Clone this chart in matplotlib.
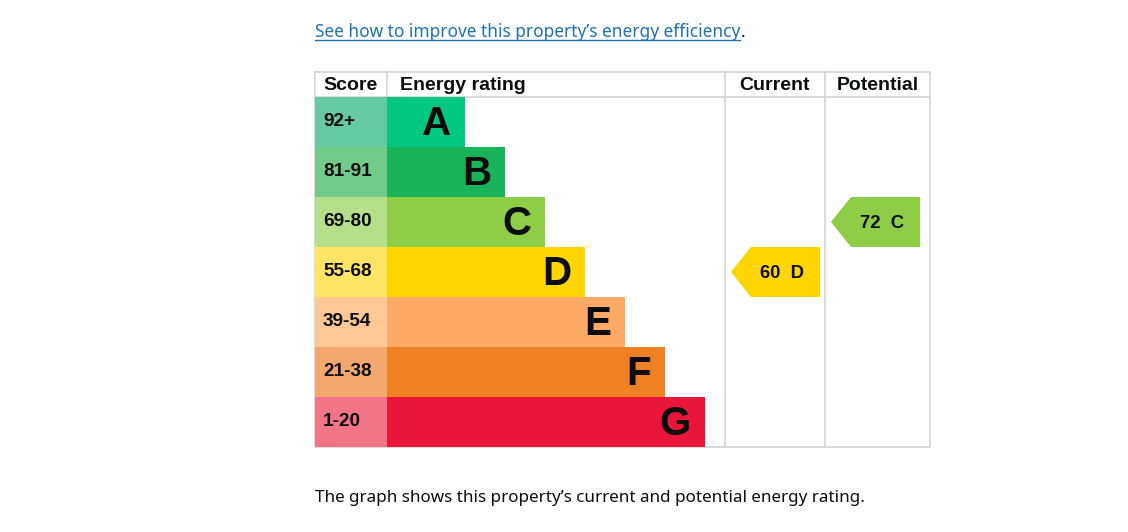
import matplotlib
matplotlib.use("Agg")
import matplotlib.pyplot as plt
from matplotlib.patches import Polygon, Rectangle

# ---- data ----
bands = ["A", "B", "C", "D", "E", "F", "G"]
score_ranges = ["92+", "81-91", "69-80", "55-68", "39-54", "21-38", "1-20"]
band_min = [92, 81, 69, 55, 39, 21, 1]
band_colors = ["#00c781", "#19b459", "#8dce46", "#ffd500", "#fcaa65", "#ef8023", "#e9153b"]
score_colors = ["#64c9a4", "#72cb8a", "#b6de8b", "#ffe466", "#fdc896", "#f2a86e", "#f27489"]
current_score = 60
potential_score = 72
headers = ["Score", "Energy rating", "Current", "Potential"]
link_text = "See how to improve this property\u2019s energy efficiency"
caption = "The graph shows this property\u2019s current and potential energy rating."

def band_of(score):
    for i, m in enumerate(band_min):
        if score >= m:
            return i
    return len(band_min) - 1

# ---- layout (pixels) ----
W, H = 1128, 532
fig = plt.figure(figsize=(W / 100, H / 100), dpi=100)
ax = fig.add_axes([0, 0, 1, 1])
ax.set_xlim(0, W)
ax.set_ylim(H, 0)
ax.axis("off")

x0, x_score, x_cur, x_pot, x1 = 315, 387, 725, 825, 930
y_top, y_head = 72, 97
row_h = 50
bar_base, bar_step = 78, 40
y_bot = y_head + row_h * len(bands)
grid = "#d2d3d4"
bold = dict(family="Liberation Sans", weight="bold", color="#0b0c0c")

# grid lines
lw = 1.2
ax.plot([x0, x1, x1, x0, x0], [y_top, y_top, y_bot, y_bot, y_top], color=grid, lw=lw, zorder=1)
ax.plot([x0, x1], [y_head, y_head], color=grid, lw=lw, zorder=1)
for xv in (x_score, x_cur, x_pot):
    ax.plot([xv, xv], [y_top, y_bot], color=grid, lw=lw, zorder=1)

# headers
hy = (y_top + y_head) / 2 + 1.5
ax.text(x0 + 8, hy, headers[0], ha="left", va="center", fontsize=14, **bold)
ax.text(x_score + 13, hy, headers[1], ha="left", va="center", fontsize=14, **bold)
ax.text((x_cur + x_pot) / 2, hy, headers[2], ha="center", va="center", fontsize=14, **bold)
ax.text((x_pot + x1) / 2, hy, headers[3], ha="center", va="center", fontsize=14, **bold)

# rows
for i, (b, sr) in enumerate(zip(bands, score_ranges)):
    top = y_head + i * row_h
    yc = top + row_h / 2
    ax.add_patch(Rectangle((x0, top), x_score - x0, row_h, color=score_colors[i], lw=0, zorder=2))
    width = bar_base + bar_step * i
    ax.barh(yc, width, height=row_h, left=x_score, color=band_colors[i], lw=0, zorder=2)
    ax.text(x0 + 8, yc, sr, ha="left", va="center", fontsize=13.7, zorder=3, **bold)
    ax.text(x_score + width - 14, yc + 2, b, ha="right", va="center", fontsize=29, zorder=3, **bold)

# arrows
def arrow(score, col_left):
    i = band_of(score)
    top = y_head + i * row_h
    bot = top + row_h
    yc = (top + bot) / 2
    tip, corner, right = col_left + 6, col_left + 26, col_left + 95
    ax.add_patch(Polygon([(tip, yc), (corner, top), (right, top), (right, bot), (corner, bot)],
                         closed=True, color=band_colors[i], lw=0, zorder=2))
    ax.text((corner + right) / 2 - 3, yc + 1, f"{score}  {bands[i]}", ha="center", va="center",
            fontsize=13.3, zorder=3, **bold)

arrow(current_score, x_cur)
arrow(potential_score, x_pot)

# link text with underline
fig.canvas.draw()
r = fig.canvas.get_renderer()
t = ax.text(x0, 37, link_text, ha="left", va="baseline", fontsize=14, family="Noto Sans", color="#1d70b8")
bb = t.get_window_extent(r)
target = 739 - 315
t.set_fontsize(14 * target / bb.width)
bb = t.get_window_extent(r)
xe = x0 + bb.width
ax.plot([x0, xe], [40, 40], color="#1d70b8", lw=1.0)
ax.text(xe + 1, 37, ".", ha="left", va="baseline", fontsize=t.get_fontsize(), family="Noto Sans", color="#0b0c0c")

c = ax.text(x0, 502, caption, ha="left", va="baseline", fontsize=14, family="Noto Sans", color="#0b0c0c")
bb = c.get_window_extent(r)
c.set_fontsize(14 * (865 - 315) / bb.width)

fig.savefig("out.png", dpi=100, facecolor="white")
